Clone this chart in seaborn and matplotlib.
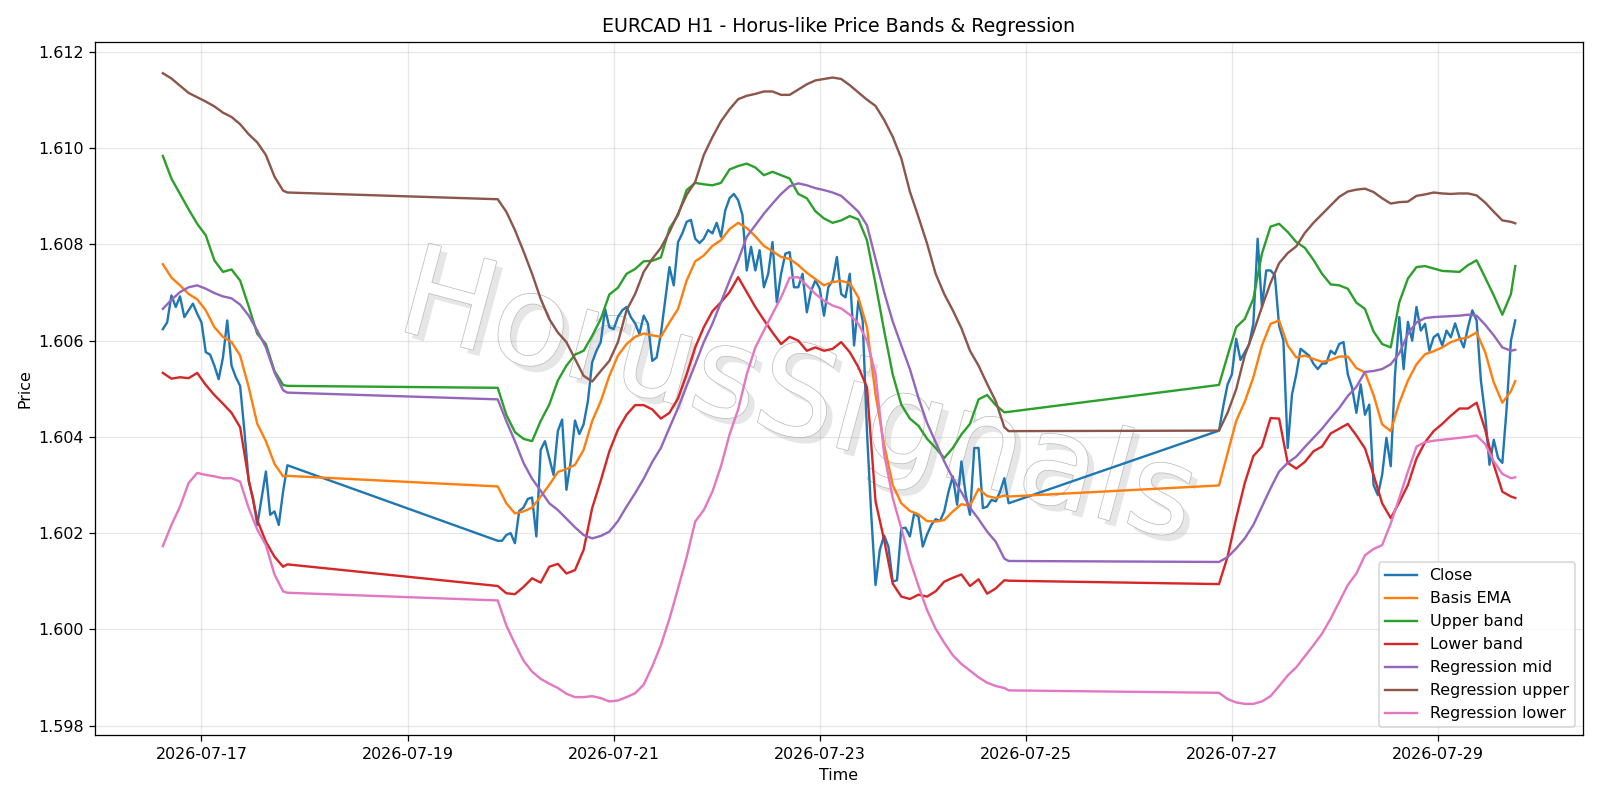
import pandas as pd
import matplotlib
matplotlib.use("Agg")
import matplotlib.pyplot as plt
import matplotlib.dates as mdates
import matplotlib.patheffects as pe
import seaborn as sns

# trading sessions (hourly bars, weekend gaps)
sessions = [("2026-07-16 15:00", "2026-07-17 20:00"),
            ("2026-07-19 21:00", "2026-07-24 20:00"),
            ("2026-07-26 21:00", "2026-07-29 18:00")]

# close prices, hourly
close = [
    1.60624, 1.60638, 1.60694, 1.60670, 1.60692, 1.60649, 1.60663, 1.60677, 1.60656, 1.60638,
    1.60576, 1.60571, 1.60548, 1.60520, 1.60565, 1.60642, 1.60548, 1.60524, 1.60506, 1.60412,
    1.60307, 1.60273, 1.60217, 1.60273, 1.60328, 1.60238, 1.60245, 1.60217, 1.60286, 1.60341,
    # week 2
    1.60184, 1.60184, 1.60196, 1.60200, 1.60179, 1.60246, 1.60253, 1.60271, 1.60274, 1.60193,
    1.60373, 1.60391, 1.60356, 1.60321, 1.60412, 1.60436, 1.60290, 1.60349, 1.60434, 1.60406,
    1.60426, 1.60474, 1.60555, 1.60579, 1.60597, 1.60666, 1.60628, 1.60624, 1.60649, 1.60663,
    1.60670, 1.60649, 1.60636, 1.60614, 1.60652, 1.60635, 1.60558, 1.60565, 1.60614, 1.60684,
    1.60753, 1.60715, 1.60805, 1.60823, 1.60847,
    1.60851, 1.60812, 1.60803, 1.60812, 1.60830, 1.60823, 1.60845, 1.60816, 1.60871, 1.60896,
    1.60905, 1.60892, 1.60861, 1.60746, 1.60795, 1.60746, 1.60788, 1.60711, 1.60739, 1.60805,
    1.60680, 1.60739, 1.60781, 1.60784, 1.60711, 1.60711, 1.60739, 1.60659, 1.60704, 1.60725,
    1.60708, 1.60652, 1.60711, 1.60725, 1.60774, 1.60697, 1.60690, 1.60739, 1.60590, 1.60683,
    1.60642, 1.60412, 1.60238, 1.60092,
    1.60165, 1.60195, 1.60172, 1.60099, 1.60102, 1.60210, 1.60211, 1.60193, 1.60241, 1.60234,
    1.60172, 1.60197, 1.60217, 1.60229, 1.60225, 1.60245, 1.60286, 1.60318, 1.60259, 1.60349,
    1.60280, 1.60238, 1.60377, 1.60377, 1.60252, 1.60255, 1.60269, 1.60266, 1.60286, 1.60314,
    1.60262,
    # week 3
    1.60413, 1.60464, 1.60509, 1.60530, 1.60604, 1.60560, 1.60576, 1.60592, 1.60635, 1.60812,
    1.60670, 1.60746, 1.60746, 1.60736, 1.60631, 1.60600, 1.60377, 1.60488, 1.60530, 1.60583,
    1.60576, 1.60569, 1.60552, 1.60541, 1.60552, 1.60553, 1.60579, 1.60572, 1.60593, 1.60597,
    1.60530, 1.60502, 1.60450, 1.60509, 1.60446, 1.60467, 1.60300, 1.60279, 1.60321, 1.60398,
    1.60339, 1.60530, 1.60649, 1.60541, 1.60639, 1.60600, 1.60670, 1.60621, 1.60635, 1.60579,
    1.60607, 1.60614, 1.60590, 1.60621, 1.60607, 1.60636, 1.60607, 1.60586, 1.60628, 1.60663,
    1.60642, 1.60517, 1.60446, 1.60342, 1.60394, 1.60356, 1.60346, 1.60460, 1.60600, 1.60642,
]

# smoothed series, sampled every 2 hours (+ last bar of each session)
basis_ema = [
    1.60759, 1.60731, 1.60715, 1.60697, 1.60686, 1.60663, 1.60628, 1.60608, 1.60597, 1.60569,
    1.60503, 1.60427, 1.60391, 1.60344, 1.60318, 1.60319,
    1.60297, 1.60262, 1.60241, 1.60245, 1.60253, 1.60276, 1.60300, 1.60327, 1.60333, 1.60342,
    1.60373, 1.60433, 1.60474, 1.60527, 1.60569, 1.60593, 1.60608, 1.60615, 1.60611, 1.60608,
    1.60638, 1.60666, 1.60725, 1.60765, 1.60777, 1.60797, 1.60809, 1.60832, 1.60845, 1.60834,
    1.60817, 1.60797, 1.60786, 1.60774, 1.60770, 1.60757, 1.60741, 1.60728, 1.60715, 1.60722,
    1.60724, 1.60720, 1.60690, 1.60628, 1.60488, 1.60384, 1.60300, 1.60262, 1.60246, 1.60239,
    1.60225, 1.60224, 1.60227, 1.60245, 1.60260, 1.60257, 1.60292, 1.60277, 1.60273, 1.60278,
    1.60276,
    1.60299, 1.60366, 1.60433, 1.60473, 1.60524, 1.60590, 1.60635, 1.60642, 1.60590, 1.60565,
    1.60569, 1.60562, 1.60556, 1.60560, 1.60567, 1.60567, 1.60543, 1.60534, 1.60487, 1.60426,
    1.60412, 1.60471, 1.60517, 1.60551, 1.60572, 1.60578, 1.60586, 1.60597, 1.60603, 1.60607,
    1.60617, 1.60576, 1.60513, 1.60471, 1.60495, 1.60516,
]
upper_band = [
    1.60984, 1.60937, 1.60905, 1.60873, 1.60843, 1.60819, 1.60767, 1.60743, 1.60748, 1.60725,
    1.60671, 1.60614, 1.60593, 1.60537, 1.60508, 1.60506,
    1.60502, 1.60446, 1.60410, 1.60396, 1.60391, 1.60433, 1.60467, 1.60517, 1.60548, 1.60571,
    1.60579, 1.60610, 1.60645, 1.60696, 1.60710, 1.60739, 1.60749, 1.60765, 1.60766, 1.60773,
    1.60833, 1.60861, 1.60913, 1.60928, 1.60925, 1.60923, 1.60928, 1.60956, 1.60963, 1.60968,
    1.60960, 1.60944, 1.60951, 1.60944, 1.60937, 1.60905, 1.60896, 1.60869, 1.60854, 1.60845,
    1.60850, 1.60859, 1.60852, 1.60809, 1.60718, 1.60621, 1.60530, 1.60467, 1.60438, 1.60423,
    1.60396, 1.60377, 1.60356, 1.60377, 1.60405, 1.60427, 1.60478, 1.60487, 1.60466, 1.60451,
    1.60452,
    1.60508, 1.60569, 1.60628, 1.60645, 1.60687, 1.60781, 1.60837, 1.60843, 1.60826, 1.60805,
    1.60793, 1.60768, 1.60739, 1.60717, 1.60715, 1.60708, 1.60679, 1.60666, 1.60619, 1.60593,
    1.60586, 1.60680, 1.60729, 1.60753, 1.60755, 1.60750, 1.60745, 1.60744, 1.60743, 1.60757,
    1.60767, 1.60731, 1.60694, 1.60654, 1.60697, 1.60755,
]
lower_band = [
    1.60533, 1.60521, 1.60524, 1.60522, 1.60533, 1.60508, 1.60487, 1.60469, 1.60450, 1.60420,
    1.60311, 1.60227, 1.60182, 1.60151, 1.60130, 1.60135,
    1.60090, 1.60075, 1.60073, 1.60088, 1.60106, 1.60097, 1.60130, 1.60136, 1.60116, 1.60123,
    1.60165, 1.60252, 1.60309, 1.60370, 1.60415, 1.60446, 1.60466, 1.60466, 1.60457, 1.60438,
    1.60450, 1.60480, 1.60530, 1.60586, 1.60628, 1.60661, 1.60680, 1.60701, 1.60732, 1.60701,
    1.60670, 1.60643, 1.60617, 1.60593, 1.60608, 1.60600, 1.60579, 1.60586, 1.60579, 1.60583,
    1.60597, 1.60576, 1.60545, 1.60503, 1.60266, 1.60186, 1.60095, 1.60068, 1.60063, 1.60072,
    1.60068, 1.60079, 1.60099, 1.60107, 1.60114, 1.60090, 1.60104, 1.60074, 1.60085, 1.60102,
    1.60101,
    1.60094, 1.60151, 1.60231, 1.60304, 1.60360, 1.60380, 1.60439, 1.60438, 1.60346, 1.60334,
    1.60348, 1.60370, 1.60380, 1.60407, 1.60417, 1.60427, 1.60403, 1.60376, 1.60321, 1.60262,
    1.60231, 1.60264, 1.60300, 1.60355, 1.60389, 1.60412, 1.60427, 1.60444, 1.60459, 1.60459,
    1.60471, 1.60415, 1.60342, 1.60286, 1.60276, 1.60273,
]
reg_mid = [
    1.60666, 1.60685, 1.60701, 1.60711, 1.60715, 1.60708, 1.60699, 1.60692, 1.60688, 1.60675,
    1.60652, 1.60621, 1.60586, 1.60534, 1.60497, 1.60492,
    1.60478, 1.60433, 1.60391, 1.60346, 1.60313, 1.60288, 1.60262, 1.60248, 1.60230, 1.60212,
    1.60196, 1.60189, 1.60194, 1.60203, 1.60225, 1.60255, 1.60283, 1.60313, 1.60348, 1.60377,
    1.60419, 1.60460, 1.60506, 1.60551, 1.60597, 1.60635, 1.60680, 1.60725, 1.60767, 1.60816,
    1.60840, 1.60864, 1.60885, 1.60905, 1.60921, 1.60927, 1.60923, 1.60917, 1.60913, 1.60908,
    1.60901, 1.60885, 1.60868, 1.60840, 1.60770, 1.60701, 1.60640, 1.60590, 1.60541, 1.60481,
    1.60429, 1.60389, 1.60349, 1.60314, 1.60285, 1.60253, 1.60229, 1.60203, 1.60182, 1.60147,
    1.60142,
    1.60140, 1.60150, 1.60168, 1.60189, 1.60217, 1.60255, 1.60293, 1.60328, 1.60346, 1.60359,
    1.60379, 1.60398, 1.60417, 1.60439, 1.60460, 1.60485, 1.60504, 1.60535, 1.60537, 1.60541,
    1.60551, 1.60574, 1.60614, 1.60638, 1.60647, 1.60649, 1.60650, 1.60651, 1.60652, 1.60654,
    1.60652, 1.60633, 1.60611, 1.60586, 1.60579, 1.60581,
]
reg_upper = [
    1.61156, 1.61145, 1.61130, 1.61115, 1.61106, 1.61097, 1.61087, 1.61074, 1.61065, 1.61050,
    1.61029, 1.61012, 1.60986, 1.60941, 1.60912, 1.60908,
    1.60894, 1.60868, 1.60830, 1.60786, 1.60739, 1.60687, 1.60645, 1.60617, 1.60597, 1.60562,
    1.60527, 1.60515, 1.60537, 1.60558, 1.60597, 1.60663, 1.60697, 1.60743, 1.60770, 1.60793,
    1.60826, 1.60864, 1.60903, 1.60930, 1.60986, 1.61023, 1.61056, 1.61081, 1.61102, 1.61109,
    1.61113, 1.61118, 1.61118, 1.61111, 1.61111, 1.61122, 1.61133, 1.61141, 1.61144, 1.61147,
    1.61144, 1.61131, 1.61116, 1.61101, 1.61088, 1.61059, 1.61024, 1.60979, 1.60910, 1.60857,
    1.60802, 1.60739, 1.60697, 1.60663, 1.60626, 1.60579, 1.60548, 1.60510, 1.60474, 1.60420,
    1.60412,
    1.60413, 1.60450, 1.60499, 1.60569, 1.60617, 1.60670, 1.60720, 1.60761, 1.60782, 1.60796,
    1.60824, 1.60845, 1.60863, 1.60881, 1.60899, 1.60910, 1.60914, 1.60916, 1.60909, 1.60896,
    1.60885, 1.60888, 1.60889, 1.60901, 1.60904, 1.60908, 1.60906, 1.60905, 1.60906, 1.60906,
    1.60902, 1.60887, 1.60868, 1.60850, 1.60847, 1.60844,
]
reg_lower = [
    1.60173, 1.60217, 1.60255, 1.60304, 1.60325, 1.60321, 1.60318, 1.60314, 1.60314, 1.60307,
    1.60252, 1.60207, 1.60175, 1.60114, 1.60079, 1.60076,
    1.60060, 1.60008, 1.59970, 1.59935, 1.59912, 1.59897, 1.59887, 1.59878, 1.59866, 1.59859,
    1.59859, 1.59861, 1.59857, 1.59850, 1.59852, 1.59859, 1.59867, 1.59885, 1.59923, 1.59967,
    1.60022, 1.60085, 1.60150, 1.60224, 1.60248, 1.60286, 1.60339, 1.60405, 1.60457, 1.60530,
    1.60586, 1.60621, 1.60656, 1.60690, 1.60731, 1.60732, 1.60715, 1.60697, 1.60683, 1.60673,
    1.60667, 1.60654, 1.60635, 1.60600, 1.60530, 1.60365, 1.60273, 1.60210, 1.60144, 1.60090,
    1.60040, 1.60001, 1.59972, 1.59946, 1.59928, 1.59914, 1.59900, 1.59889, 1.59882, 1.59878,
    1.59873,
    1.59868, 1.59855, 1.59848, 1.59845, 1.59845, 1.59850, 1.59861, 1.59882, 1.59904, 1.59921,
    1.59944, 1.59967, 1.59991, 1.60022, 1.60057, 1.60092, 1.60116, 1.60154, 1.60167, 1.60175,
    1.60220, 1.60273, 1.60328, 1.60380, 1.60389, 1.60392, 1.60394, 1.60396, 1.60398, 1.60400,
    1.60403, 1.60385, 1.60349, 1.60323, 1.60314, 1.60316,
]

# build time axes
t_close = []
t_smooth = []
for start, end in sessions:
    t_close += list(pd.date_range(start, end, freq="h"))
    rng = list(pd.date_range(start, end, freq="2h"))
    if rng[-1] != pd.Timestamp(end):
        rng.append(pd.Timestamp(end))
    t_smooth += rng

df_close = pd.DataFrame({"time": t_close, "price": close})
df_smooth = pd.DataFrame({"time": t_smooth, "ema": basis_ema, "up": upper_band,
                          "lo": lower_band, "rmid": reg_mid, "rup": reg_upper,
                          "rlo": reg_lower})

DPI = 800 / 7
fig, ax = plt.subplots(figsize=(14, 7), dpi=DPI)

# watermark
ax.text(0.472, 0.482, "HorusSignals", transform=ax.transAxes, fontsize=79,
        rotation=-15, ha="center", va="center", color="white", zorder=0,
        path_effects=[pe.withSimplePatchShadow(offset=(4, -4), shadow_rgbFace="0.65", alpha=0.28),
                      pe.withStroke(linewidth=1.0, foreground="0.75")])

pal = sns.color_palette("tab10")
sns.lineplot(data=df_close, x="time", y="price", ax=ax, color=pal[0], label="Close", linewidth=1.5)
series = [("ema", "Basis EMA", pal[1]), ("up", "Upper band", pal[2]), ("lo", "Lower band", pal[3]),
          ("rmid", "Regression mid", pal[4]), ("rup", "Regression upper", pal[5]),
          ("rlo", "Regression lower", pal[6])]
for col, name, c in series:
    sns.lineplot(data=df_smooth, x="time", y=col, ax=ax, color=c, label=name, linewidth=1.5)

ax.set_title("EURCAD H1 - Horus-like Price Bands & Regression", fontsize=12)
ax.set_xlabel("Time")
ax.set_ylabel("Price")
ax.xaxis.set_major_locator(mdates.DayLocator(interval=2))
ax.xaxis.set_major_formatter(mdates.DateFormatter("%Y-%m-%d"))
ax.grid(True, alpha=0.3)
ax.legend(loc="lower right")
plt.tight_layout()
plt.savefig("out.png", dpi=DPI)
